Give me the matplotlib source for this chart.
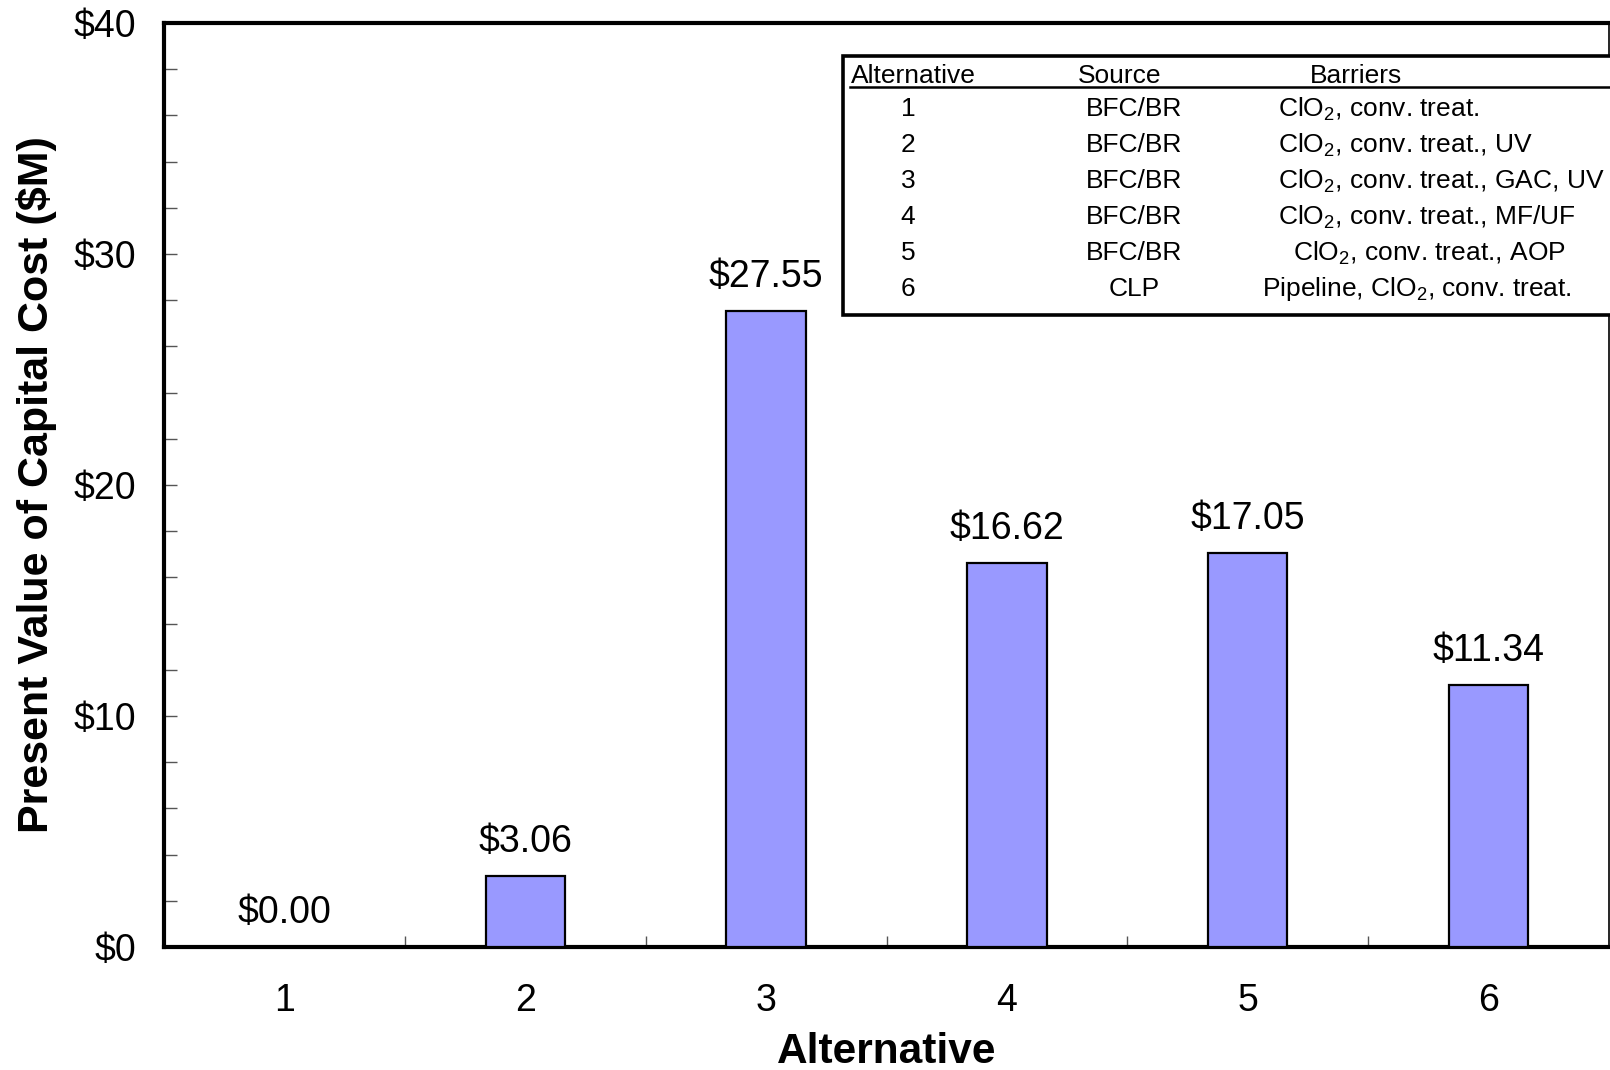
import matplotlib
matplotlib.use("Agg")
from matplotlib import pyplot as plt
from matplotlib.patches import Rectangle
from matplotlib.lines import Line2D

plt.rcParams['font.family'] = ['Liberation Sans', 'DejaVu Sans']
plt.rcParams['mathtext.fontset'] = 'custom'
plt.rcParams['mathtext.rm'] = 'Liberation Sans'

alternatives = [1, 2, 3, 4, 5, 6]
costs = [0.00, 3.06, 27.55, 16.62, 17.05, 11.34]

sources = ["BFC/BR", "BFC/BR", "BFC/BR", "BFC/BR", "BFC/BR", "CLP"]
barriers = [r"ClO$\mathregular{_2}$, conv. treat.",
            r"ClO$\mathregular{_2}$, conv. treat., UV",
            r"ClO$\mathregular{_2}$, conv. treat., GAC, UV",
            r"ClO$\mathregular{_2}$, conv. treat., MF/UF",
            r"ClO$\mathregular{_2}$, conv. treat., AOP",
            r"Pipeline, ClO$\mathregular{_2}$, conv. treat."]

W, H = 1610, 1070
fig = plt.figure(figsize=(W / 100, H / 100), dpi=100)
ax = fig.add_axes([164 / W, 1 - 947 / H, (1609 - 164) / W, (947 - 23) / H])

ax.bar(alternatives, costs, width=0.33, color='#9999FF', edgecolor='black', linewidth=1.6, zorder=3)

# value labels above bars
for x, v in zip(alternatives, costs):
    ax.annotate("${:.2f}".format(v), (x, v), xytext=(0, 24.5), textcoords='offset points',
                ha='center', va='center', fontsize=27)

ax.set_xlim(0.5, 6.5)
ax.set_ylim(0, 40)
ax.set_yticks([0, 10, 20, 30, 40])
ax.set_yticklabels(["$0", "$10", "$20", "$30", "$40"])
ax.set_yticks(range(0, 41, 2), minor=True)
ax.set_xticks(alternatives)
ax.set_xticklabels([str(a) for a in alternatives])
ax.set_xticks([1.5, 2.5, 3.5, 4.5, 5.5], minor=True)

ax.tick_params(axis='x', which='major', length=0, pad=26, labelsize=27)
ax.tick_params(axis='x', which='minor', direction='in', length=8, width=1, color='#555555')
ax.tick_params(axis='y', which='major', direction='in', length=9, width=1, color='#555555',
               pad=20, labelsize=27)
ax.tick_params(axis='y', which='minor', direction='in', length=9, width=1, color='#555555')

for s in ax.spines.values():
    s.set_linewidth(3)
ax.spines['right'].set_linewidth(1.2)

ax.set_xlabel("Alternative", fontsize=30.5, fontweight='bold', labelpad=9)
ax.set_ylabel("Present Value of Capital Cost ($M)", fontsize=31, fontweight='bold', labelpad=12)

# legend table (figure pixel coords)
def fx(px):
    return px / W

def fy(py):
    return 1 - py / H

fig.patches.append(Rectangle((fx(843), fy(315)), fx(1620) - fx(843), fy(56) - fy(315),
                             transform=fig.transFigure, fill=True, facecolor='white',
                             edgecolor='black', linewidth=2.6, zorder=5))
fig.lines.append(Line2D([fx(850), fx(1610)], [fy(87), fy(87)], transform=fig.transFigure,
                        color='black', linewidth=1.8, zorder=6))

tsize = 19
fig.text(fx(851), fy(76), "Alternative", fontsize=tsize, ha='left', va='center', zorder=7)
fig.text(fx(1120), fy(76), "Source", fontsize=tsize, ha='center', va='center', zorder=7)
fig.text(fx(1356), fy(76), "Barriers", fontsize=tsize, ha='center', va='center', zorder=7)

barrier_x = [1278, 1278, 1278, 1278, 1293, 1262]
for i, (a, s, b) in enumerate(zip(alternatives, sources, barriers)):
    yy = 109 + 36 * i
    fig.text(fx(908), fy(yy), str(a), fontsize=tsize, ha='center', va='center', zorder=7)
    fig.text(fx(1134), fy(yy), s, fontsize=tsize, ha='center', va='center', zorder=7)
    fig.text(fx(barrier_x[i]), fy(yy), b, fontsize=tsize, ha='left', va='center', zorder=7)

fig.savefig("out.png", dpi=100)
